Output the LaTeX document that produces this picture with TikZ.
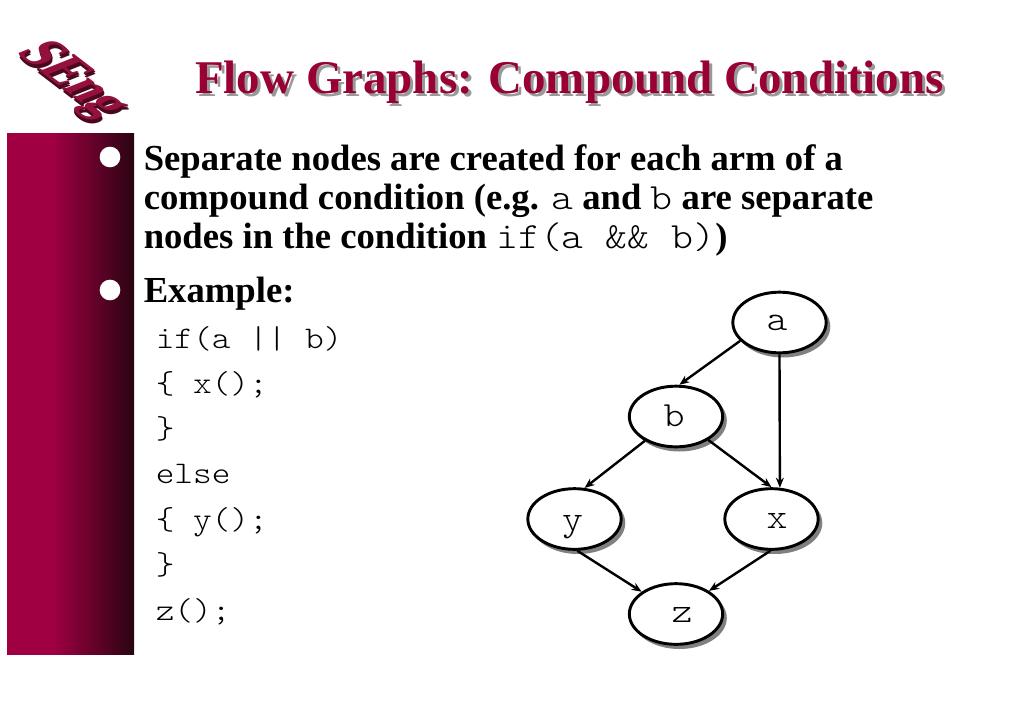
\documentclass[tikz,border=0pt]{standalone}
\usepackage{fontspec}
\setmainfont{Liberation Serif}
\newfontfamily\widemono[FakeStretch=1.13]{Latin Modern Mono Light}
\usetikzlibrary{shapes.geometric,arrows.meta}
\definecolor{titlered}{HTML}{990033}
\definecolor{maroon}{HTML}{96103C}
\definecolor{maroondark}{HTML}{4A0820}
\definecolor{barleft}{HTML}{A00042}
\definecolor{barright}{HTML}{2A0412}
\newcommand{\bodysize}{\fontsize{27.5bp}{31bp}\selectfont\bfseries}
\newcommand{\inlinemono}{\fontsize{27.7bp}{31bp}\selectfont\widemono\mdseries}
\newcommand{\codefont}{\fontsize{23.6bp}{30bp}\selectfont\widemono\mdseries}
\tikzset{
  x=0.75bp,y=-0.75bp,
  flow/.style={ellipse,draw=black,fill=white,line width=2.2bp,minimum width=70bp,minimum height=45.5bp,inner sep=0pt},
  shadowell/.style={ellipse,fill=black!50,minimum width=71bp,minimum height=46.5bp,inner sep=0pt},
  edge/.style={draw=black,line width=1.8bp,-{Stealth[length=7.5bp,width=6bp]}},
  bodyline/.style={anchor=base west,inner sep=0pt,font=\bodysize,text=black},
  codeline/.style={anchor=base west,inner sep=0pt,font=\codefont,text=black},
  nodelabel/.style={anchor=base,inner sep=0pt,font=\fontsize{26.5bp}{30bp}\selectfont\widemono\mdseries},
  titletext/.style={anchor=base west,inner sep=0pt,font=\fontsize{35.2bp}{38bp}\selectfont\bfseries},
  logotext/.style={inner sep=0pt,transform shape,cm={.78,-.6,1.18,.47,(0,0)},font=\fontsize{36bp}{36bp}\selectfont\bfseries},
  bulletdot/.style={circle,fill=white,minimum size=15.5bp,inner sep=0pt},
}
\begin{document}
\begin{tikzpicture}
\useasboundingbox (0,0) rectangle (1024,709);
\fill[white] (0,0) rectangle (1024,709);
% side bar
\begin{scope}
  \clip (7,133) rectangle (134,654);
  \fill[barleft] (0,125) rectangle (53,665);
  \shade[left color=barleft,right color=barright] (52,125) rectangle (134,665);
\end{scope}
\node[bulletdot] (b1) at (110,157) {};
\node[bulletdot] (b2) at (110,290) {};
% logo
\foreach \d in {6,4,2}{
  \begin{scope}[shift={({71+\d*0.1},{80+\d*0.7})}]
    \node[logotext,text=maroondark] at (0,0) {SEng};
  \end{scope}
}
\begin{scope}[shift={(71,80)}]
  \node[logotext,text=maroon] (logo) at (0,0) {SEng};
\end{scope}
% title
\node[titletext,text=black!40] (titleshadow) at (198,96) {Flow Graphs: Compound Conditions};
\node[titletext,text=titlered] (title) at (195,93) {Flow Graphs: Compound Conditions};
% body
\node[bodyline] (l1) at (143.5,170) {Separate nodes are created for each arm of a};
\node[bodyline] (l2) at (143.5,209) {compound condition (e.g. {\inlinemono a} and {\inlinemono b} are separate};
\node[bodyline] (l3) at (143.5,248) {nodes in the condition {\inlinemono if(a \&\& b)})};
\node[bodyline] (l4) at (143.5,302) {Example:};
% code
\node[codeline] (c1) at (155.5,348) {if(a || b)};
\node[codeline] (c2) at (155.5,393) {\{ x();};
\node[codeline] (c3) at (155.5,438) {\}};
\node[codeline] (c4) at (155.5,483) {else};
\node[codeline] (c5) at (155.5,529) {\{ y();};
\node[codeline] (c6) at (155.5,574) {\}};
\node[codeline] (c7) at (155.5,620) {z();};
% graph shadows
\foreach \p in {(779.5,322.5),(676,416.5),(574.5,519),(771.5,519),(676,614)}{
  \path \p node[shadowell,xshift=2.6bp,yshift=-3bp] {};
}
% graph
\node[flow] (a) at (779.5,322.5) {};
\node[flow] (b) at (676,416.5) {};
\node[flow] (y) at (574.5,519) {};
\node[flow] (x) at (771.5,519) {};
\node[flow] (z) at (676,614) {};
\node[nodelabel] (la) at (777,330) {a};
\node[nodelabel] (lb) at (674,426) {b};
\node[nodelabel] (ly) at (572.5,530) {y};
\node[nodelabel] (lx) at (777,528) {x};
\node[nodelabel] (lz) at (682,622) {z};
\draw[edge] (a.205) -- (b.84);
\draw[edge] (a.270) -- (x.75);
\draw[edge] (b.218) -- (y.72);
\draw[edge] (b.-36) -- (x.90);
\draw[edge] (y.-85) -- (z.147);
\draw[edge] (x.-92) -- (z.35);
\end{tikzpicture}
\end{document}
